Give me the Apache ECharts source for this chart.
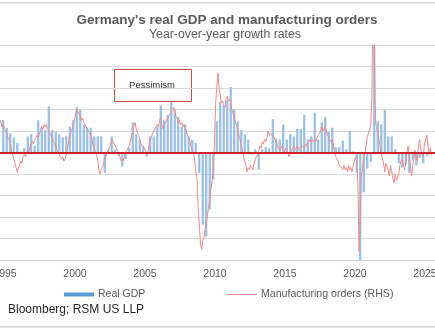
<!DOCTYPE html>
<html>
<head>
<meta charset="utf-8">
<script src="https://cdn.jsdelivr.net/npm/echarts@6/dist/echarts.min.js"></script>
<style>
  html, body { margin: 0; padding: 0; background: #fff; }
  #chart { width: 435px; height: 332px; }
</style>
</head>
<body>
<div id="chart"></div>
<script>
// Real GDP, year-over-year %, quarterly, first value is 1994 Q4
const gdpStartYear = 1994;
const gdpStartQuarter = 4;
const gdpYoY = [
  3.0,
  2.3, 1.8, 1.4, 0.9,      // 1995
  0.1, 0.4, 1.5, 1.7,      // 1996
  0.6, 3.0, 2.4, 2.1,      // 1997
  4.3, 2.1, 1.9, 1.7,      // 1998
  1.4, 1.5, 2.4, 3.0,      // 1999
  4.2, 4.0, 2.6, 2.3,      // 2000
  2.3, 1.5, 1.5, 1.5,      // 2001
  -1.9, 0.3, 1.5, 0.3,     // 2002
  -0.3, -1.3, -0.6, 0.4,   // 2003
  2.8, 1.7, 1.2, 0.6,      // 2004
  -0.4, 1.5, 1.5, 2.4,     // 2005
  4.4, 3.0, 3.5, 4.7,      // 2006
  4.0, 3.3, 2.4, 2.6,      // 2007
  1.5, 1.2, 0.9, -1.9,     // 2008
  -6.7, -7.8, -5.3, -2.5,  // 2009
  2.9, 4.7, 4.4, 4.9,      // 2010
  6.1, 4.0, 2.9, 2.1,      // 2011
  1.7, 1.2, -0.2, 0.3,     // 2012
  -1.6, 0.3, 0.5, 0.4,     // 2013
  3.1, 1.3, 1.2, 2.6,      // 2014
  1.2, 1.7, 1.5, 2.2,      // 2015
  2.2, 3.5, 1.2, 1.5,      // 2016
  3.7, 1.2, 2.8, 3.3,      // 2017
  1.9, 2.3, 0.5, 0.5,      // 2018
  1.1, 0.3, 2.0, 0.1,      // 2019
  -1.9, -11.3, -3.7, -1.5, // 2020
  -0.9, 10.5, 2.9, 2.6,    // 2021
  4.0, 1.5, 1.5, 0.3,      // 2022
  -1.0, -1.4, -1.1, -1.9,  // 2023
  -0.7, -1.2, -0.5, -1.0,  // 2024
  -0.3                     // 2025
];

// Manufacturing orders, year-over-year %, monthly, first value is July 1994
const ordersStartYear = 1994;
const ordersStartMonth = 7;
const orders1994to1999 = [
  12, 15, 14, 12, 13, 11,
  10, 9, 7, 6, 4, 1, -1, -3, -5, -7, -9, -7,
  -6, -4, -5, -2, -1, -2, 0, 1, 0, 3, 4, 5,
  4, 6, 7, 8, 7, 9, 10, 12, 11, 13, 12, 13,
  11, 10, 9, 8, 7, 5, 4, 3, 1, 0, -1, -2,
  -3, -2, -4, -3, -1, 2, 5, 8, 9, 11, 13, 15
];
const orders2000to2009 = [
  18, 20, 19, 18, 17, 15, 16, 14, 13, 12, 11, 10,
  9, 8, 6, 3, 2, 0, -1, -4, -8, -10, -8, -7,
  -5, -3, -2, 0, 1, 2, 4, 6, 5, 4, 3, 2,
  1, -1, -2, -4, -3, -4, -1, 0, 1, 2, 3, 5,
  8, 10, 12, 14, 11, 9, 8, 6, 4, 3, 3, 2,
  1, -1, 0, 4, 6, 7, 9, 10, 11, 12, 13, 12,
  15, 16, 13, 11, 13, 14, 15, 16, 17, 18, 19, 20,
  21, 19, 17, 16, 14, 15, 13, 14, 12, 13, 11, 10,
  8, 7, 5, 3, 1, 0, -3, -9, -12, -25, -33, -42,
  -45, -41, -40, -36, -33, -29, -26, -21, -17, -13, -8, 4
];
const orders2010to2019 = [
  22, 30, 37, 30, 27, 23, 24, 22, 21, 25, 26, 24,
  25, 23, 20, 18, 16, 14, 13, 11, 8, 6, 3, 1,
  -2, -4, -6, -9, -7, -8, -6, -7, -8, -5, -3, -2,
  -1, 1, 3, 2, 5, 4, 6, 5, 7, 10, 8, 9,
  9, 8, 7, 6, 5, 3, 2, 1, 2, 3, 1, 0,
  2, 1, 0, -2, -1, 1, 2, 3, 1, 2, 3, 2,
  1, 2, 2, 3, 2, 4, 3, 4, 5, 6, 5, 6,
  5, 6, 5, 7, 8, 9, 10, 12, 10, 11, 12, 10,
  8, 7, 6, 5, 6, 3, 0, -2, -3, -4, -6, -6,
  -7, -8, -6, -8, -7, -9, -6, -8, -7, -9, -6, -4
];
const orders2020to2025 = [
  -2, -4, -15, -46, -31, -11, -7, -2, 0, 3, 7, 9,
  9, 12, 26, 78, 55, 14, 12, 9, 6, 3, 0, -3,
  -5, -9, -5, -7, -8, -11, -6, -9, -12, -14, -10, -13,
  -13, -10, -6, -4, -3, -6, -8, -5, 0, 3, -2, -6,
  -11, -6, -3, 1, -3, -4, 4, 6, 1, -1, -2, 4,
  6, 8, 4, -1, 2, -1, 0
];

const yearTicks = [1995, 2000, 2005, 2010, 2015, 2020, 2025];

const gdpPoints = gdpYoY.map((v, i) => [
  gdpStartYear + (gdpStartQuarter - 1 + i + 0.5) / 4, v
]);
const ordersAll = [].concat(orders1994to1999, orders2000to2009, orders2010to2019, orders2020to2025);
const ordersPoints = ordersAll.map((v, i) => [
  ordersStartYear + (ordersStartMonth - 1 + i + 0.5) / 12, v
]);

const FONT = '"Liberation Sans", Arial, sans-serif';
const GREY = '#595959';
const ZERO_RED = '#d0212a';

const chart = echarts.init(document.getElementById('chart'), null, { renderer: 'canvas' });

chart.setOption({
  animation: false,
  backgroundColor: '#ffffff',
  textStyle: { fontFamily: FONT },
  title: [
    {
      text: "Germany's real GDP and manufacturing orders",
      left: 222, top: 8, textAlign: 'center',
      textStyle: { fontFamily: FONT, fontSize: 13.5, fontWeight: 'bold', color: GREY }
    },
    {
      text: 'Year-over-year growth rates',
      left: 220, top: 24, textAlign: 'center',
      textStyle: { fontFamily: FONT, fontSize: 12.3, fontWeight: 'normal', color: GREY }
    },
    {
      text: 'Bloomberg; RSM US LLP',
      left: 3, top: 299,
      textStyle: { fontFamily: FONT, fontSize: 12, fontWeight: 'normal', color: '#262626' }
    }
  ],
  legend: [
    {
      data: [{ name: 'Real GDP', icon: 'rect', itemStyle: { color: '#5b9bd5' } }],
      left: 59, top: 284,
      itemWidth: 30, itemHeight: 4, itemGap: 0,
      textStyle: { fontFamily: FONT, fontSize: 10.5, color: GREY, padding: [0, 0, 0, -1] }
    },
    {
      data: [{ name: 'Manufacturing orders (RHS)', icon: 'rect', itemStyle: { color: '#ef8a8a' } }],
      left: 222, top: 284,
      itemWidth: 30, itemHeight: 1, itemGap: 0,
      textStyle: { fontFamily: FONT, fontSize: 10.6, color: GREY, padding: [0, 0, 0, -1] }
    }
  ],
  grid: {
    left: -65, right: -60, top: 45, bottom: 72,
    containLabel: false,
    outerBoundsMode: 'none'
  },
  xAxis: {
    type: 'value',
    min: 1990, max: 2030, interval: 5,
    axisLine: { show: false },
    axisTick: { show: false },
    splitLine: { show: false },
    axisLabel: {
      margin: 9,
      fontFamily: FONT, fontSize: 10.5, color: GREY,
      formatter: v => (yearTicks.indexOf(v) >= 0 ? String(v) : '')
    }
  },
  yAxis: [
    {
      type: 'value', min: -10, max: 10, interval: 2,
      axisLabel: { show: false }, axisLine: { show: false }, axisTick: { show: false },
      splitLine: { show: true, lineStyle: { color: '#d9d9d9', width: 1 } }
    },
    {
      type: 'value', min: -50, max: 50, interval: 10,
      axisLabel: { show: false }, axisLine: { show: false }, axisTick: { show: false },
      splitLine: { show: false }
    }
  ],
  series: [
    {
      name: 'Real GDP',
      type: 'bar',
      yAxisIndex: 0,
      data: gdpPoints,
      barWidth: 2.2,
      clip: true,
      itemStyle: { color: '#97bfe4' },
      markLine: {
        silent: true,
        symbol: 'none',
        label: { show: false },
        lineStyle: { color: ZERO_RED, width: 2, type: 'solid' },
        data: [{ yAxis: 0 }],
        z: 10
      }
    },
    {
      name: 'Manufacturing orders (RHS)',
      type: 'line',
      yAxisIndex: 1,
      data: ordersPoints,
      showSymbol: false,
      symbol: 'none',
      clip: true,
      lineStyle: { color: '#ef8a8a', width: 1 },
      itemStyle: { color: '#ef8a8a' },
      z: 3
    }
  ],
  graphic: [
    { type: 'rect', shape: { x: 0, y: 2, width: 435, height: 1.5 }, style: { fill: '#dcdcdc' }, silent: true },
    { type: 'rect', shape: { x: 0, y: 326, width: 435, height: 1.5 }, style: { fill: '#d4d4d4' }, silent: true },
    {
      type: 'group', z: 100,
      children: [
        {
          type: 'rect',
          shape: { x: 114.5, y: 69.5, width: 77, height: 32 },
          style: { fill: '#ffffff', stroke: '#c9504f', lineWidth: 1 }
        },
        {
          type: 'text',
          x: 152, y: 85.5,
          style: {
            text: 'Pessimism', fill: '#262626',
            font: '9.5px "Liberation Sans", Arial, sans-serif',
            align: 'center', verticalAlign: 'middle'
          }
        }
      ]
    }
  ]
});
</script>
</body>
</html>
